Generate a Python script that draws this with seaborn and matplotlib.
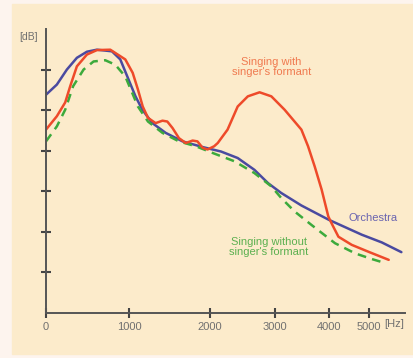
import matplotlib
matplotlib.use("Agg")
import matplotlib.pyplot as plt
import seaborn as sns
import numpy as np
from matplotlib.patches import Rectangle

# frequency axis is not linear: tick frequency -> relative position on the axis
scale_freq = [0, 1000, 2000, 3000, 4000, 5000, 6000, 7000]
scale_pos = [0, 83, 163, 228, 281, 321, 351, 375]

x_ticks = [0, 1000, 2000, 3000, 4000, 5000]
x_ticklabels = ["0", "1000", "2000", "3000", "4000", "5000"]
y_ticks = [1, 2, 3, 4, 5, 6]

orch_f = [0, 130, 250, 370, 490, 610, 790, 890, 990, 1075, 1160, 1285, 1450,
          1660, 1910, 2170, 2425, 2680, 2890, 3110, 3490, 4000, 4825, 5430, 6100]
orch_db = [5.38, 5.63, 6.0, 6.29, 6.44, 6.49, 6.45, 6.25, 5.75, 5.34, 5.01,
           4.68, 4.44, 4.23, 4.09, 3.98, 3.82, 3.53, 3.2, 2.96, 2.65, 2.3,
           1.93, 1.74, 1.5]

with_f = [0, 130, 230, 290, 370, 490, 610, 770, 830, 950, 1040, 1105, 1165,
          1230, 1325, 1410, 1470, 1535, 1615, 1700, 1785, 1845, 1910, 1970,
          2065, 2120, 2270, 2425, 2580, 2760, 2940, 3175, 3490, 3615, 3740,
          3870, 3995, 4075, 4245, 4575, 4990, 5660]
with_db = [4.52, 4.85, 5.19, 5.59, 6.08, 6.37, 6.48, 6.49, 6.41, 6.25, 5.92,
           5.51, 5.09, 4.81, 4.68, 4.74, 4.72, 4.56, 4.31, 4.19, 4.25, 4.23,
           4.07, 4.03, 4.11, 4.19, 4.52, 5.09, 5.34, 5.44, 5.34, 5.01, 4.52,
           4.11, 3.61, 3.04, 2.38, 2.21, 1.88, 1.68, 1.51, 1.31]

without_f = [0, 130, 230, 325, 450, 570, 710, 830, 950, 1035, 1105, 1230, 1410,
             1615, 1825, 1990, 2065, 2375, 2680, 2940, 3115, 3365, 3680, 4160,
             4660, 5100, 5545]
without_db = [4.23, 4.6, 5.01, 5.59, 6.0, 6.2, 6.23, 6.12, 5.83, 5.42, 5.09,
              4.72, 4.44, 4.23, 4.11, 3.98, 3.93, 3.74, 3.45, 3.12, 2.83, 2.5,
              2.17, 1.72, 1.47, 1.33, 1.23]


def fwd(f):
    return np.interp(f, scale_freq, scale_pos)


def inv(p):
    return np.interp(p, scale_pos, scale_freq)


sns.set_style("white")
plt.rcParams["font.family"] = ["Liberation Sans", "DejaVu Sans"]

fig = plt.figure(figsize=(4.14, 3.58), dpi=100)
fig.patch.set_facecolor("#fdf4ee")
fig.patches.append(Rectangle((12 / 414, 4 / 358), 1, 350 / 358,
                             transform=fig.transFigure, color="#fcebcb", zorder=-5))

ax = fig.add_axes([46 / 414, 45 / 358, 359 / 414, 284 / 358])
ax.set_facecolor("none")
ax.set_zorder(2)
ax.set_xscale("function", functions=(fwd, inv))

red = "#ee4a2a"
blue = "#4a4aa0"
green = "#3caa3c"

sns.lineplot(x=orch_f, y=orch_db, ax=ax, color=blue, lw=1.8, sort=False)
sns.lineplot(x=without_f, y=without_db, ax=ax, color=green, lw=1.8,
             linestyle=(0, (3.5, 2.5)), sort=False)
sns.lineplot(x=with_f, y=with_db, ax=ax, color=red, lw=1.8, sort=False)

ax.set_xlim(0, 6250)
ax.set_ylim(0, 7)
ax.set_xticks(x_ticks)
ax.set_xticklabels(x_ticklabels)
ax.set_yticks(y_ticks)
ax.set_yticklabels([])
ax.tick_params(axis="both", left=True, bottom=True, direction="inout",
               length=6.5, width=1.5, color="#444444", labelsize=8,
               labelcolor="#707070", pad=3)

for side in ["top", "right"]:
    ax.spines[side].set_visible(False)
for side in ["left", "bottom"]:
    ax.spines[side].set_color("#555555")
    ax.spines[side].set_linewidth(1.4)

ax.text(5830, -0.15, "[Hz]", fontsize=8, color="#707070", ha="center", va="top")
ax.text(-0.022, 0.972, "[dB]", transform=ax.transAxes, fontsize=7.5,
        color="#707070", ha="right", va="center")

ax.text(2940, 6.07, "Singing with\nsinger's formant", fontsize=8,
        color="#f07a50", ha="center", va="center", linespacing=1.05)
ax.text(4500, 2.35, "Orchestra", fontsize=8, color="#6a64b0",
        ha="left", va="center")
ax.text(2900, 1.63, "Singing without\nsinger's formant", fontsize=8,
        color="#5cb050", ha="center", va="center", linespacing=1.05)

fig.savefig("out.png", dpi=100, facecolor=fig.get_facecolor())
